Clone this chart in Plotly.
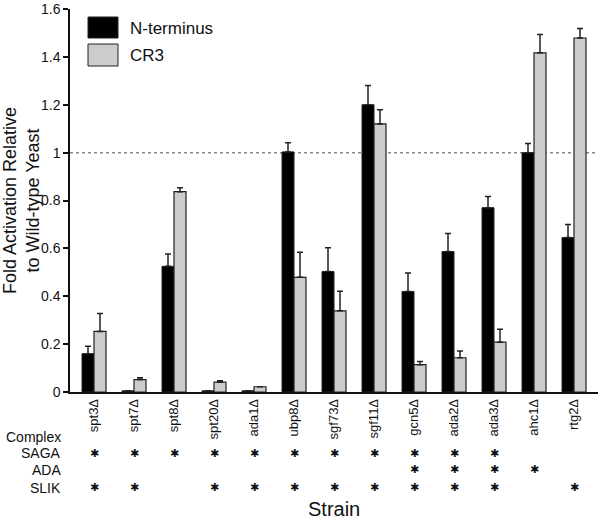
import plotly.graph_objects as go

strains = ["spt3Δ", "spt7Δ", "spt8Δ", "spt20Δ", "ada1Δ", "ubp8Δ", "sgf73Δ",
           "sgf11Δ", "gcn5Δ", "ada2Δ", "ada3Δ", "ahc1Δ", "rtg2Δ"]
n_term = [0.16, 0.005, 0.525, 0.005, 0.005, 1.003, 0.503, 1.20, 0.42, 0.587, 0.77, 1.0, 0.645]
n_term_err = [0.031, 0.0, 0.052, 0.0, 0.0, 0.038, 0.10, 0.08, 0.077, 0.075, 0.047, 0.038, 0.055]
cr3 = [0.253, 0.052, 0.837, 0.041, 0.022, 0.479, 0.339, 1.12, 0.114, 0.143, 0.208, 1.417, 1.479]
cr3_err = [0.075, 0.008, 0.016, 0.006, 0.0, 0.105, 0.082, 0.059, 0.013, 0.028, 0.054, 0.077, 0.04]

saga = [1, 1, 1, 1, 1, 1, 1, 1, 1, 1, 1, 0, 0]
ada = [0, 0, 0, 0, 0, 0, 0, 0, 1, 1, 1, 1, 0]
slik = [1, 1, 0, 1, 1, 1, 1, 1, 1, 1, 1, 0, 1]

FONT = "Liberation Sans, Arial, sans-serif"
x_idx = list(range(len(strains)))

L, T, PW, PH = 70, 9, 528, 383  # plot area in pixels

fig = go.Figure()
fig.add_trace(go.Bar(
    x=x_idx, y=n_term, name="N-terminus",
    marker=dict(color="#000000", line=dict(color="#222222", width=1)),
    error_y=dict(type="data", array=n_term_err, arrayminus=[0]*len(strains),
                 symmetric=False, color="#222222", thickness=1.5, width=3),
))
fig.add_trace(go.Bar(
    x=x_idx, y=cr3, name="CR3",
    marker=dict(color="#cccccc", line=dict(color="#222222", width=1.2)),
    error_y=dict(type="data", array=cr3_err, arrayminus=[0]*len(strains),
                 symmetric=False, color="#222222", thickness=1.5, width=3),
))

fig.add_shape(type="line", xref="paper", yref="y", x0=0, x1=1, y0=1, y1=1,
              line=dict(color="#888888", width=1.5, dash="dot"), layer="below")

def px_y(py):
    return (T + PH - py) / PH

def px_x(px):
    return (px - L) / PW

# legend drawn manually
fig.add_shape(type="rect", xref="paper", yref="paper",
              x0=px_x(88), x1=px_x(118), y0=px_y(38), y1=px_y(17),
              fillcolor="#000000", line=dict(color="#222222", width=1))
fig.add_shape(type="rect", xref="paper", yref="paper",
              x0=px_x(88), x1=px_x(118), y0=px_y(66), y1=px_y(44),
              fillcolor="#cccccc", line=dict(color="#222222", width=1))
fig.add_annotation(xref="paper", yref="paper", x=px_x(128), y=px_y(28),
                   text="N-terminus", showarrow=False, xanchor="left", yanchor="middle",
                   font=dict(family=FONT, size=17, color="#111111"))
fig.add_annotation(xref="paper", yref="paper", x=px_x(128), y=px_y(55),
                   text="CR3", showarrow=False, xanchor="left", yanchor="middle",
                   font=dict(family=FONT, size=17, color="#111111"))

# complex table
rows = [("Complex", None, 437), ("SAGA", saga, 453), ("ADA", ada, 470), ("SLIK", slik, 488)]
for label, member, py in rows:
    fig.add_annotation(xref="paper", yref="paper", x=px_x(63), y=px_y(py),
                       text=label, showarrow=False, xanchor="right", yanchor="middle",
                       font=dict(family=FONT, size=14, color="#111111"))
    if member is None:
        continue
    for i, m in enumerate(member):
        if m:
            fig.add_annotation(xref="x", yref="paper", x=i, y=px_y(py),
                               text="✱", showarrow=False, xanchor="center", yanchor="middle",
                               font=dict(family="DejaVu Sans", size=11, color="#111111"))

fig.add_annotation(xref="paper", yref="paper", x=px_x(334), y=px_y(509),
                   text="Strain", showarrow=False, xanchor="center", yanchor="middle",
                   font=dict(family=FONT, size=20, color="#111111"))

fig.update_layout(
    width=600, height=523,
    margin=dict(l=L, r=600 - L - PW, t=T, b=523 - T - PH, autoexpand=False),
    plot_bgcolor="white", paper_bgcolor="white",
    barmode="group", bargap=0.4, bargroupgap=0,
    showlegend=False,
    font=dict(family=FONT, size=13, color="#111111"),
    xaxis=dict(
        range=[-0.6, 12.6], tickmode="array", tickvals=x_idx, ticktext=strains,
        tickangle=-90, showline=True, linecolor="#111111", linewidth=1.5,
        ticks="", showgrid=False, zeroline=False, automargin=False,
        tickfont=dict(family=FONT, size=13, color="#111111"),
    ),
    yaxis=dict(
        range=[0, 1.6001], tickmode="array",
        tickvals=[0, 0.2, 0.4, 0.6, 0.8, 1.0, 1.2, 1.4, 1.6],
        ticktext=["0", "0.2", "0.4", "0.6", "0.8", "1", "1.2", "1.4", "1.6"],
        showline=True, linecolor="#111111", linewidth=1.5,
        ticks="outside", ticklen=5, tickwidth=1.5, tickcolor="#111111",
        showgrid=False, zeroline=False, automargin=False,
        ticklabeloverflow="allow",
        tickfont=dict(family=FONT, size=14, color="#111111"),
        title=dict(text="Fold Activation Relative<br>to Wild-type Yeast",
                   font=dict(family=FONT, size=18, color="#111111"), standoff=10),
    ),
)

fig.write_html("out.html", config={"displayModeBar": False},
               post_script="document.body.style.margin='0';document.body.style.overflow='hidden';")
